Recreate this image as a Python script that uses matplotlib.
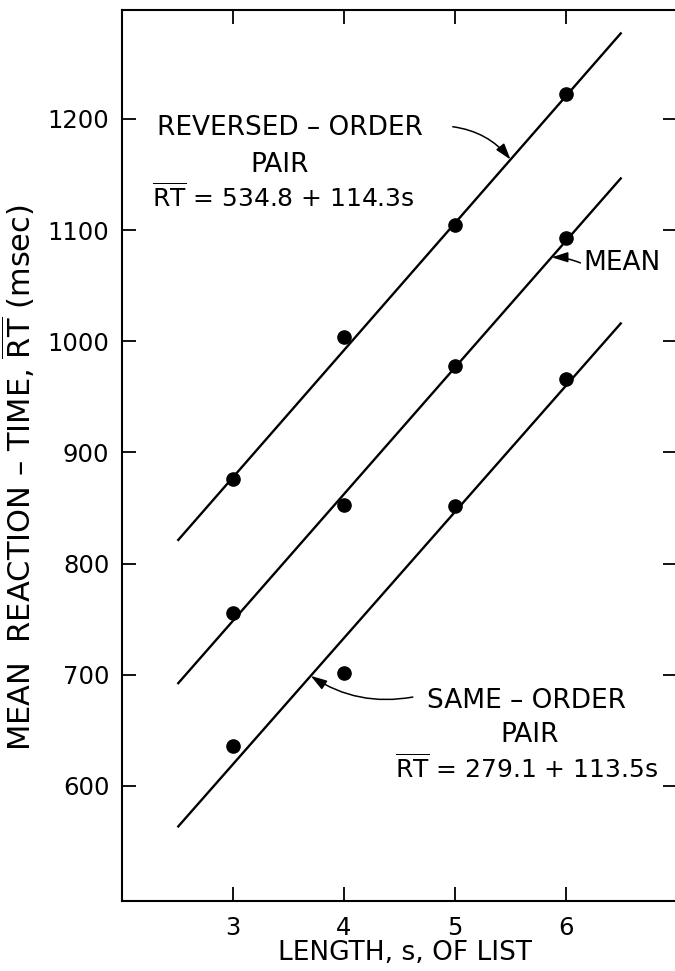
import matplotlib
matplotlib.use("Agg")
import matplotlib.pyplot as plt
import numpy as np

# ---- data ----
list_length = [3, 4, 5, 6]
rt_reversed = [876, 1004, 1105, 1222]
rt_mean = [756, 853, 978, 1093]
rt_same = [636, 702, 852, 966]

# fitted lines (intercept, slope)
fit_reversed = (534.8, 114.3)
fit_same = (279.1, 113.5)
fit_mean = ((534.8 + 279.1) / 2, (114.3 + 113.5) / 2)
line_span = [2.5, 6.5]

xticks = [3, 4, 5, 6]
yticks = [600, 700, 800, 900, 1000, 1100, 1200]

plt.rcParams['font.family'] = ['DejaVu Sans']
plt.rcParams['mathtext.fontset'] = 'dejavusans'

W, H = 675, 971
fig = plt.figure(figsize=(W / 100, H / 100), dpi=100)
ax = fig.add_axes([122 / W, 70.5 / H, 555 / W, 890.5 / H])
ax.set_xlim(2, 7)
ax.set_ylim(497, 1298)

fs = 19
fs_eq = 18
xs = np.array(line_span)
for (a, b), pts in [(fit_reversed, rt_reversed), (fit_mean, rt_mean), (fit_same, rt_same)]:
    ax.plot(xs, a + b * xs, color='black', lw=1.7, solid_capstyle='butt')
    ax.plot(list_length, pts, 'o', color='black', ms=9.5)

# axes styling
for s in ['left', 'bottom', 'top']:
    ax.spines[s].set_linewidth(1.5)
ax.spines['right'].set_visible(False)
ax.set_xticks(xticks)
ax.set_yticks(yticks)
ax.tick_params(direction='in', length=10, width=1.3, top=True, right=True,
               labelsize=17.5, pad=9)
ax.tick_params(axis='x', pad=11)

ax.set_xlabel('LENGTH, s, OF LIST', fontsize=19)
ax.xaxis.set_label_coords((405 - 122) / 555, (18 - 70.5) / 890.5)
ax.xaxis.label.set_va('center')
ax.set_ylabel(r'MEAN  REACTION – TIME, $\overline{\mathrm{RT}}$ (msec)', fontsize=22)
ax.yaxis.set_label_coords((18 - 122) / 555, (493 - 70.5) / 890.5)
ax.yaxis.label.set_va('center')

# annotations
arrow_kw = dict(arrowstyle='-|>,head_length=0.7,head_width=0.22', color='black', lw=1.1,
                shrinkA=0, shrinkB=0, mutation_scale=14)

ax.text(2.315, 1185.6, 'REVERSED – ORDER', fontsize=fs, ha='left', va='baseline')
ax.text(3.42, 1152.3, 'PAIR', fontsize=fs, ha='center', va='baseline')
ax.text(2.27, 1120.8, r'$\overline{\mathrm{RT}}$ = 534.8 + 114.3s', fontsize=fs_eq, ha='left', va='baseline')
xr = 5.5
ax.annotate('', xy=(xr, fit_reversed[0] + fit_reversed[1] * xr), xytext=(4.98, 1193),
            arrowprops=dict(connectionstyle='arc3,rad=-0.2', **arrow_kw))

ax.text(6.16, 1064, 'MEAN', fontsize=fs, ha='left', va='baseline')
xm = 5.87
ax.annotate('', xy=(xm, fit_mean[0] + fit_mean[1] * xm), xytext=(6.13, 1070.5),
            arrowprops=dict(connectionstyle='arc3,rad=0.1', **arrow_kw))

ax.text(4.748, 670.3, 'SAME – ORDER', fontsize=fs, ha='left', va='baseline')
ax.text(5.676, 639.7, 'PAIR', fontsize=fs, ha='center', va='baseline')
ax.text(4.46, 607.4, r'$\overline{\mathrm{RT}}$ = 279.1 + 113.5s', fontsize=fs_eq, ha='left', va='baseline')
xs_ = 3.70
ax.annotate('', xy=(xs_, fit_same[0] + fit_same[1] * xs_), xytext=(4.62, 680),
            arrowprops=dict(connectionstyle='arc3,rad=-0.2', **arrow_kw))

fig.savefig('out.png', dpi=100)
